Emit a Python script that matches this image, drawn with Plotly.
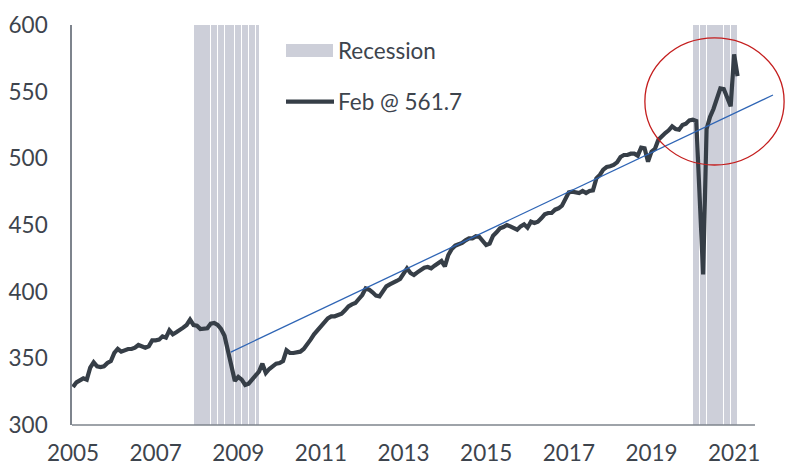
import plotly.graph_objects as go

# ---------------- data ----------------
start_year = 2005  # first month: Jan 2005, monthly through Feb 2021
sales = [
    # 2005
    328.5, 332, 333.5, 335, 334, 343, 347, 344, 343.5, 344, 346.5, 348,
    # 2006
    354, 357, 355, 356, 357, 357, 358, 360, 359, 358, 359, 363.5,
    # 2007
    363.5, 364, 366.5, 365.5, 371, 368, 369.5, 371, 373, 375, 379, 375,
    # 2008
    374.5, 372, 372, 372.5, 376, 376.5, 375, 372, 367, 356, 344, 333,
    # 2009
    336, 334, 330, 331, 334, 337.5, 340, 346, 339, 342, 344.5, 346,
    # 2010
    346.5, 348, 356, 354, 354, 354.5, 355, 357, 360, 364, 368, 371,
    # 2011
    374, 377, 380, 381.5, 381.5, 382.5, 383.5, 386, 389, 390.5, 391.5, 394.5,
    # 2012
    397.5, 402.5, 401.5, 399.5, 397, 396.5, 400.5, 404, 405.5, 406.5, 408, 409.5,
    # 2013
    413.5, 417.5, 414, 412.5, 414.5, 416, 418, 418.5, 417.5, 419.5, 421.5, 423,
    # 2014
    419, 427.5, 432, 434.5, 435.5, 436.5, 438.5, 440, 440, 441.5, 441, 438,
    # 2015
    435, 436, 442, 444.5, 447.5, 448.5, 450, 449, 448, 446.5, 449, 450.5,
    # 2016
    448, 452.5, 451.5, 452.5, 455, 458, 459, 459, 461.5, 462.5, 464.5, 470,
    # 2017
    474.5, 475, 474.5, 474, 475.5, 474, 475.5, 476, 485, 487.5, 491.5, 493.5,
    # 2018
    494, 495, 497, 501, 502.5, 502.5, 503.5, 503.5, 502, 508, 507.5, 497.5,
    # 2019
    505, 507, 514, 517, 519, 521, 524, 522, 521.5, 525, 526, 528.5,
    # 2020
    529, 528, 470, 413, 522, 531, 537, 545, 552.5, 552, 545, 539,
    # 2021
    578, 561.7,
]
recession_periods = [("2007-12", "2009-06"), ("2020-01", "2021-01")]
trend_x = [2008.82, 2021.94]
trend_y = [354.7, 547.5]
year_ticks = [2005, 2007, 2009, 2011, 2013, 2015, 2017, 2019, 2021]
y_ticks = [300, 350, 400, 450, 500, 550, 600]
legend_labels = ["Recession", "Feb @ 561.7"]

# ---------------- styles ----------------
FONT = "Lato, 'Open Sans', sans-serif"
FS = 22.5
TEXT_C = "#3D444D"
LINE_C = "#363E47"
REC_C = "#CDCFD9"
TREND_C = "#2F65B5"
AXIS_C = "#7E848D"
RED_C = "#C41E1E"

x_vals = [start_year + i / 12 for i in range(len(sales))]


def ym(s):
    y, m = map(int, s.split("-"))
    return y + (m - 1) / 12


rec_x = []
for a, b in recession_periods:
    t = ym(a)
    while t <= ym(b) + 1e-9:
        rec_x.append(t)
        t += 1 / 12

fig = go.Figure()
fig.add_trace(go.Bar(
    x=rec_x, y=[300] * len(rec_x), base=300, width=(1 / 12) * 0.9, offset=0,
    marker=dict(color=REC_C, line=dict(width=0)), hoverinfo="skip",
))
fig.add_trace(go.Scatter(
    x=x_vals, y=sales, mode="lines",
    line=dict(color=LINE_C, width=4.2), hoverinfo="skip",
))
fig.add_trace(go.Scatter(
    x=trend_x, y=trend_y, mode="lines",
    line=dict(color=TREND_C, width=1.3), hoverinfo="skip",
))

px_per_year = 41.32
x0 = 2005 - 1 / px_per_year
plot_w = 785 - 72
x1 = x0 + plot_w / px_per_year
axis_end = 2021.505

fig.update_layout(
    width=785, height=464,
    margin=dict(l=72, r=0, t=25, b=39),
    paper_bgcolor="white", plot_bgcolor="white",
    showlegend=False,
    font=dict(family=FONT, color=TEXT_C, size=FS),
    xaxis=dict(
        range=[x0, x1], tickvals=year_ticks, ticktext=[str(v) for v in year_ticks],
        showgrid=False, zeroline=False, showline=False, ticks="",
        tickfont=dict(family=FONT, size=FS, color=TEXT_C), ticklabelstandoff=12,
        automargin=False,
    ),
    yaxis=dict(
        range=[300, 600], tickvals=y_ticks, ticktext=[str(v) for v in y_ticks],
        showgrid=False, zeroline=False, showline=True, linecolor=AXIS_C, linewidth=1.6,
        ticks="", tickfont=dict(family=FONT, size=FS, color=TEXT_C), ticklabelstandoff=18,
        automargin=False,
    ),
    bargap=0,
)

# x axis line (ends before the plot edge)
fig.add_shape(type="line", xref="paper", yref="paper",
              x0=0, x1=(axis_end - x0) / (x1 - x0), y0=0, y1=0,
              line=dict(color=AXIS_C, width=1.6))
# red ellipse
fig.add_shape(type="circle", xref="x", yref="y",
              x0=2018.84, x1=2022.21, y0=495, y1=590.3,
              line=dict(color=RED_C, width=1.3))


# custom legend
def px_to_paper_x(px):
    return (px - 72) / plot_w


def py_to_paper_y(py):
    return (425 - py) / 400


fig.add_shape(type="rect", xref="paper", yref="paper",
              x0=px_to_paper_x(286), x1=px_to_paper_x(333),
              y0=py_to_paper_y(57), y1=py_to_paper_y(44),
              fillcolor=REC_C, line=dict(width=0))
fig.add_shape(type="line", xref="paper", yref="paper",
              x0=px_to_paper_x(286), x1=px_to_paper_x(334),
              y0=py_to_paper_y(101.7), y1=py_to_paper_y(101.7),
              line=dict(color=LINE_C, width=4.2))
for label, py in zip(legend_labels, [50.5, 101.5]):
    fig.add_annotation(text=label, xref="paper", yref="paper",
                       x=px_to_paper_x(336), y=py_to_paper_y(py),
                       xanchor="left", yanchor="middle", showarrow=False,
                       font=dict(family=FONT, size=FS, color=TEXT_C))

fig.write_html(
    "out.html",
    config={"displayModeBar": False},
    post_script="document.body.style.margin='0';document.body.style.padding='0';",
)
